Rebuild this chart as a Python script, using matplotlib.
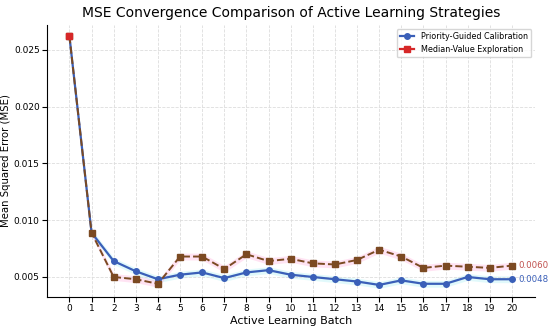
import numpy as np
import matplotlib.pyplot as plt

# ===== data =====
batches = list(range(21))
priority_mse = [0.0262, 0.0089, 0.0064, 0.0055, 0.0048, 0.0052, 0.0054, 0.0049, 0.0054, 0.0056,
                0.0052, 0.0050, 0.0048, 0.0046, 0.0043, 0.0047, 0.0044, 0.0044, 0.0050, 0.0048, 0.0048]
median_mse = [0.0262, 0.0089, 0.0050, 0.0048, 0.0044, 0.0068, 0.0068, 0.0057, 0.0070, 0.0064,
              0.0066, 0.0062, 0.0061, 0.0065, 0.0074, 0.0068, 0.0058, 0.0060, 0.0059, 0.0058, 0.0060]

blue = '#3a5fb8'
red = '#d62728'
brown = '#7b4a22'

fig, ax = plt.subplots(figsize=(5.5, 3.28), dpi=100)
x = np.array(batches)
pm = np.array(priority_mse)
mm = np.array(median_mse)

# light bands
ax.fill_between(x, pm - 0.0003, pm + 0.0003, color='#aaf0f5', alpha=0.35, lw=0)
ax.fill_between(x, mm - 0.0003, mm + 0.0003, color='#ffb0dd', alpha=0.35, lw=0)

ax.plot(x, pm, '-o', color=blue, lw=1.6, ms=4, label='Priority-Guided Calibration', zorder=3)
ax.plot(x, mm, '--s', color=brown, lw=1.4, ms=4, zorder=4)
ax.plot(x[:1], mm[:1], 's', color=red, ms=4.5, zorder=5)
# legend proxy
ax.plot([], [], '-s', color=red, lw=1.6, ms=4, label='Median-Value Exploration')

ax.text(20.3, mm[-1], f'{mm[-1]:.4f}', color='#c0504d', fontsize=6.2, va='center', clip_on=False)
ax.text(20.3, pm[-1], f'{pm[-1]:.4f}', color=blue, fontsize=6.2, va='center', clip_on=False)

ax.set_title('MSE Convergence Comparison of Active Learning Strategies', fontsize=10)
ax.set_xlabel('Active Learning Batch', fontsize=8, labelpad=2)
ax.set_ylabel('Mean Squared Error (MSE)', fontsize=7.3, labelpad=2)
ax.set_xticks(batches)
ax.tick_params(labelsize=6.5, pad=2)
ax.set_xlim(-1, 21.05)
ax.set_ylim(0.00325, 0.0272)
ax.grid(True, linestyle='--', color='#dddddd', lw=0.6)
for s in ['top', 'right']:
    ax.spines[s].set_visible(False)
ax.legend(fontsize=5.8, loc='upper right', handlelength=1.8)

plt.subplots_adjust(left=0.086, right=0.973, top=0.924, bottom=0.095)
fig.savefig('out.png', dpi=100)
